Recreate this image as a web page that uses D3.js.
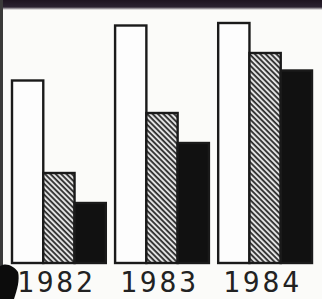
<!DOCTYPE html>
<html>
<head>
<meta charset="utf-8">
<script src="https://cdn.jsdelivr.net/npm/d3@7"></script>
<style>
	html, body { margin: 0; padding: 0; background: #fbfbf9; }
	svg { display: block; }
</style>
</head>
<body>
<div id="chart"></div>
<script>
(function() {
	"use strict";

	var years = ['1982', '1983', '1984'];
	var series = ['white', 'hatched', 'black'];
	var whiteValues = [73, 95, 96];
	var hatchedValues = [36, 60, 84];
	var blackValues = [24, 48, 77];

	var width = 322, height = 299;
	var baseline = 263;

	var svg = d3.select('#chart')
		.append('svg')
		.attr('width', width)
		.attr('height', height);

	var defs = svg.append('defs');
	var pattern = defs.append('pattern')
		.attr('id', 'hatch')
		.attr('patternUnits', 'userSpaceOnUse')
		.attr('width', 3.8)
		.attr('height', 3.8)
		.attr('patternTransform', 'rotate(45)');
	pattern.append('rect')
		.attr('width', 3.8).attr('height', 3.8)
		.attr('fill', '#e2e2e2');
	pattern.append('rect')
		.attr('width', 3.8).attr('height', 1.8)
		.attr('fill', '#2e2e2e');

	var topFade = defs.append('linearGradient')
		.attr('id', 'topFade')
		.attr('x1', 0).attr('y1', 0).attr('x2', 0).attr('y2', 1);
	topFade.append('stop').attr('offset', '0%').attr('stop-color', '#1d1420');
	topFade.append('stop').attr('offset', '70%').attr('stop-color', '#2a2230');
	topFade.append('stop').attr('offset', '100%').attr('stop-color', '#fbfbf9');

	// photo frame edges
	svg.append('rect')
		.attr('x', 0).attr('y', 0)
		.attr('width', width).attr('height', 10)
		.attr('fill', 'url(#topFade)');
	svg.append('rect')
		.attr('x', 0).attr('y', 0)
		.attr('width', 3).attr('height', 268)
		.attr('fill', '#3a3a3a');

	var x0 = d3.scaleBand()
		.domain(years)
		.range([12, 312])
		.paddingInner(0.09);

	var x1 = d3.scaleBand()
		.domain(series)
		.range([0, x0.bandwidth()]);

	var y = d3.scaleLinear()
		.domain([0, 100])
		.range([baseline, 13]);

	var fills = { white: '#fdfdfd', hatched: 'url(#hatch)', black: '#111111' };
	var values = { white: whiteValues, hatched: hatchedValues, black: blackValues };

	var rows = years.map(function (year, i) {
		return series.map(function (s) {
			return { year: year, key: s, value: values[s][i] };
		});
	});

	var groups = svg.selectAll('g.year')
		.data(rows)
		.enter()
		.append('g')
		.classed('year', true)
		.attr('transform', function (d) { return 'translate(' + x0(d[0].year) + ',0)'; });

	groups.selectAll('rect')
		.data(function (d) { return d; })
		.enter()
		.append('rect')
		.attr('x', function (d) { return x1(d.key); })
		.attr('y', function (d) { return y(d.value); })
		.attr('width', x1.bandwidth())
		.attr('height', function (d) { return baseline - y(d.value); })
		.attr('fill', function (d) { return fills[d.key]; })
		.attr('stroke', '#1a1a1a')
		.attr('stroke-width', 2.4);

	var axis = d3.axisBottom(x0).tickSize(0).tickPadding(0);
	var axisG = svg.append('g')
		.attr('transform', 'translate(-4,' + (baseline + 8) + ')')
		.call(axis);
	axisG.select('.domain').remove();
	axisG.selectAll('text')
		.attr('dy', '0.76em')
		.attr('fill', '#222')
		.attr('font-family', '"DejaVu Sans Mono", monospace')
		.attr('font-size', 28)
		.attr('textLength', 76)
		.attr('lengthAdjust', 'spacing');

	// dark smudge over the first label
	svg.append('path')
		.attr('d', 'M0,266 C6,262 14,266 18,272 C20,280 17,290 14,299 L0,299 Z')
		.attr('fill', '#0c0c0c');
}());
</script>
</body>
</html>
